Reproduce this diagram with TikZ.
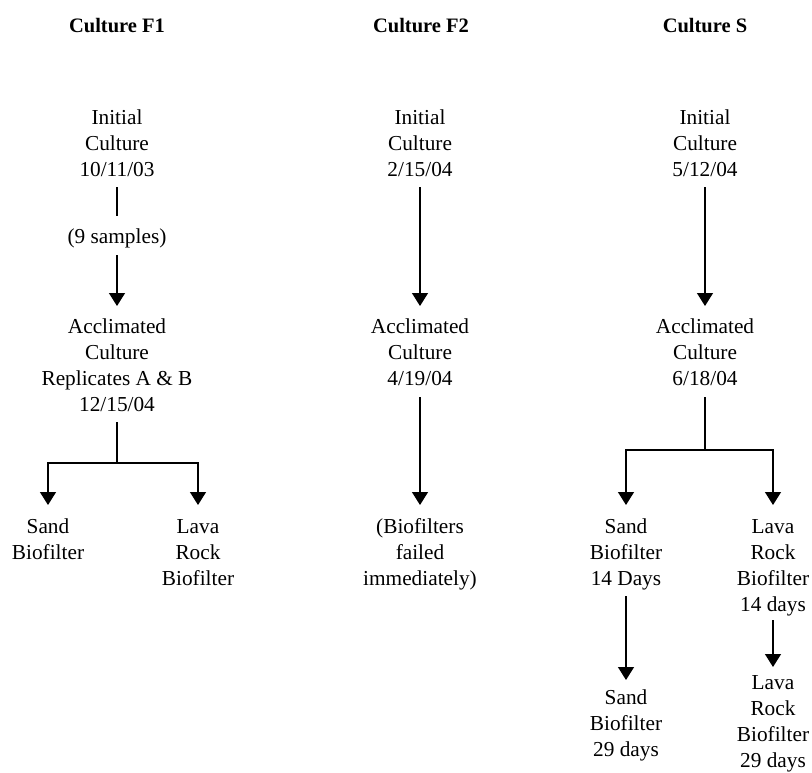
\documentclass[tikz,border=0pt]{standalone}
\usepackage{fontspec}
\setmainfont{Liberation Serif}
\usetikzlibrary{arrows.meta,calc}
\tikzset{
  lbl/.style={align=center,inner sep=0pt,anchor=base,font=\fontsize{21.3}{26}\selectfont},
  ttl/.style={inner sep=0pt,anchor=base,font=\fontsize{20.5}{24}\selectfont\bfseries},
  conn/.style={line width=1.3pt},
  arr/.style={line width=1.3pt,-{Triangle[width=16pt,length=13pt]}}
}
\begin{document}
\begin{tikzpicture}[x=1pt,y=-1pt]
\useasboundingbox (0,0) rectangle (812,772);
% titles
\node[ttl] (t1) at (117,32) {Culture F1};
\node[ttl] (t2) at (421,32) {Culture F2};
\node[ttl] (t3) at (705,32) {Culture S};
% column F1 (base = baseline of last line)
\node[lbl] (i1) at (117,176) {Initial\\Culture\\10/11/03};
\node[lbl] (s1) at (117,243) {(9 samples)};
\node[lbl] (a1) at (117,411) {Acclimated\\Culture\\Replicates A \& B\\12/15/04};
\node[lbl] (sand1) at (48,559) {Sand\\Biofilter};
\node[lbl] (lava1) at (198,585) {Lava\\Rock\\Biofilter};
\coordinate (j1) at (117,463);
\draw[conn] ($(i1.base)+(0,11)$) -- ($(s1.base)+(0,-27)$);
\draw[arr] ($(s1.base)+(0,12)$) -- ($(a1.base)+(0,-105)$);
\draw[conn] ($(a1.base)+(0,11)$) -- (j1);
\draw[arr] (j1) -| ($(sand1.base)+(0,-54)$);
\draw[arr] (j1) -| ($(lava1.base)+(0,-80)$);
% column F2
\node[lbl] (i2) at (420,176) {Initial\\Culture\\2/15/04};
\node[lbl] (a2) at (420,385) {Acclimated\\Culture\\4/19/04};
\node[lbl] (f2) at (420,585) {(Biofilters\\failed\\immediately)};
\draw[arr] ($(i2.base)+(0,11)$) -- ($(a2.base)+(0,-79)$);
\draw[arr] ($(a2.base)+(0,12)$) -- ($(f2.base)+(0,-80)$);
% column S
\node[lbl] (i3) at (705,176) {Initial\\Culture\\5/12/04};
\node[lbl] (a3) at (705,385) {Acclimated\\Culture\\6/18/04};
\node[lbl] (sand3) at (626,585) {Sand\\Biofilter\\14 Days};
\node[lbl] (lava3) at (773,611) {Lava\\Rock\\Biofilter\\14 days};
\node[lbl] (sand29) at (626,756) {Sand\\Biofilter\\29 days};
\node[lbl] (lava29) at (773,767) {Lava\\Rock\\Biofilter\\29 days};
\coordinate (j3) at (705,450);
\draw[arr] ($(i3.base)+(0,11)$) -- ($(a3.base)+(0,-79)$);
\draw[conn] ($(a3.base)+(0,12)$) -- (j3);
\draw[arr] (j3) -| ($(sand3.base)+(0,-80)$);
\draw[arr] (j3) -| ($(lava3.base)+(0,-106)$);
\draw[arr] ($(sand3.base)+(0,11)$) -- ($(sand29.base)+(0,-76)$);
\draw[arr] ($(lava3.base)+(0,9)$) -- ($(lava29.base)+(0,-100)$);
\end{tikzpicture}
\end{document}
